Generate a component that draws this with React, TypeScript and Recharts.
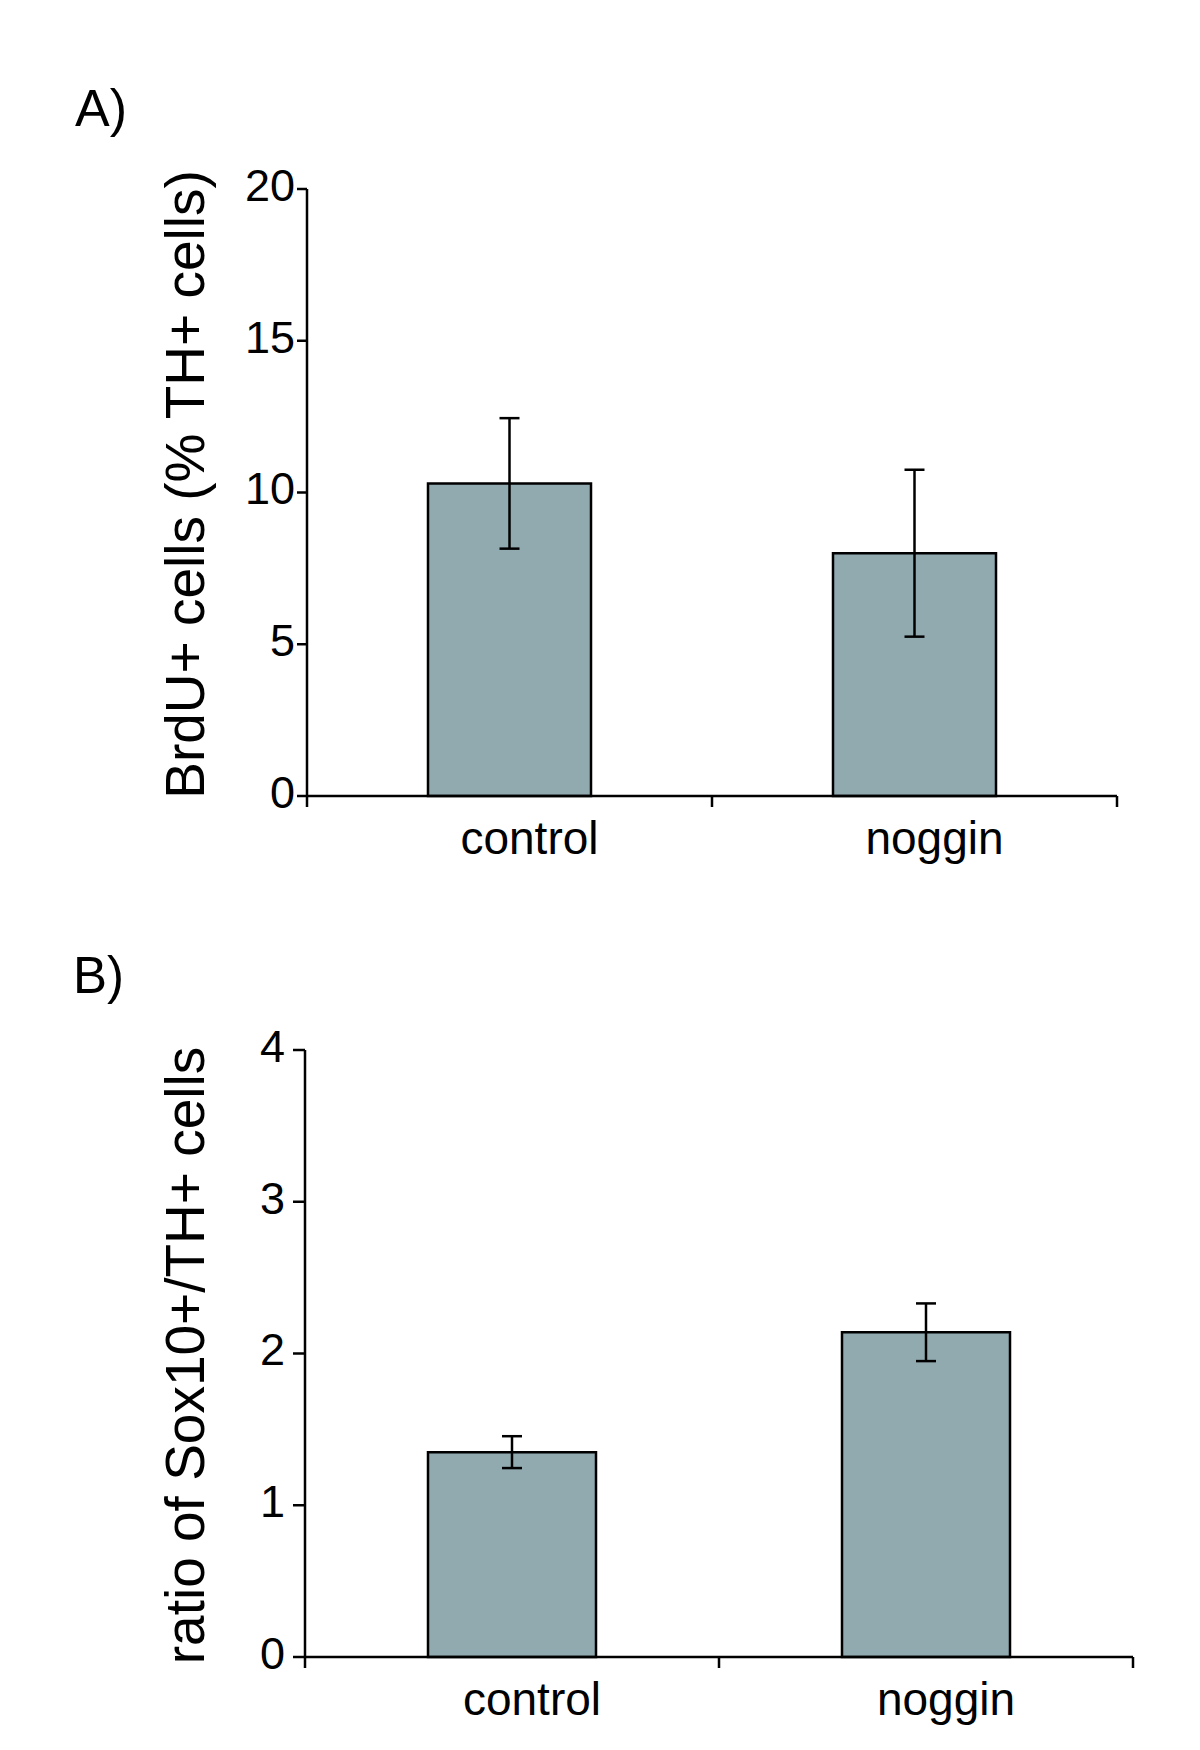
import React from "react";
import { BarChart, Bar, XAxis, YAxis, ErrorBar } from "recharts";

// groups on the x axis
const groups = ["control", "noggin"];

// panel A: BrdU+ cells (% of TH+ cells), mean and error
const brduMeans = [10.3, 8.0];
const brduErrs = [2.15, 2.75];
const brduTicks = [0, 5, 10, 15, 20];

// panel B: ratio of Sox10+/TH+ cells, mean and error
const soxMeans = [1.35, 2.14];
const soxErrs = [0.105, 0.19];
const soxTicks = [0, 1, 2, 3, 4];

const FONT = "Arial, 'Liberation Sans', Helvetica, sans-serif";
const INK = "#000";
const BAR_FILL = "#91aab0";
const LINE_W = 2.5;

const brduData = groups.map((g, i) => ({ group: g, value: brduMeans[i], err: brduErrs[i] }));
const soxData = groups.map((g, i) => ({ group: g, value: soxMeans[i], err: soxErrs[i] }));

// category label plus tick marks at the category boundaries (Excel style)
const CategoryTick = (props: any) => {
  const { x, y, payload, index, visibleTicksCount, halfBand, tickLen } = props;
  const half = payload && typeof payload.offset === "number" && payload.offset > 0 ? payload.offset : halfBand;
  const isLast = index === visibleTicksCount - 1;
  return (
    <g>
      <line x1={x - half} y1={y} x2={x - half} y2={y + tickLen} stroke={INK} strokeWidth={LINE_W} />
      {isLast && (
        <line x1={x + half} y1={y} x2={x + half} y2={y + tickLen} stroke={INK} strokeWidth={LINE_W} />
      )}
      <text x={x + 20} y={y + 58} textAnchor="middle" fontSize={46} fontFamily={FONT} fill={INK}>
        {payload.value}
      </text>
    </g>
  );
};

const AxisTitle = (props: any) => {
  const { viewBox, text, dx, dy } = props;
  const cx = viewBox.x + dx;
  const cy = viewBox.y + viewBox.height / 2 + dy;
  return (
    <text
      x={cx}
      y={cy}
      transform={`rotate(-90 ${cx} ${cy})`}
      textAnchor="middle"
      fontSize={55}
      fontFamily={FONT}
      fill={INK}
    >
      {text}
    </text>
  );
};

type PanelProps = {
  data: any[];
  ticks: number[];
  top: number;
  height: number;
  margin: { top: number; right: number; bottom: number; left: number };
  barSize: number;
  yTitle: string;
  titleDx: number;
  titleDy: number;
  yTickSize: number;
  yTickMargin: number;
  halfBand: number;
};

const Panel = (p: PanelProps) => (
  <div style={{ position: "absolute", left: 0, top: p.top }}>
    <BarChart width={1200} height={p.height} data={p.data} margin={p.margin}>
      <XAxis
        dataKey="group"
        height={80}
        interval={0}
        tickSize={0}
        tickMargin={0}
        tickLine={false}
        axisLine={{ stroke: INK, strokeWidth: LINE_W }}
        tick={(t: any) => <CategoryTick {...t} halfBand={p.halfBand} tickLen={11} />}
      />
      <YAxis
        domain={[0, p.ticks[p.ticks.length - 1]]}
        ticks={p.ticks}
        interval={0}
        width={100}
        tickSize={p.yTickSize}
        tickMargin={p.yTickMargin}
        axisLine={{ stroke: INK, strokeWidth: LINE_W }}
        tickLine={{ stroke: INK, strokeWidth: LINE_W }}
        tick={{ fontSize: 45, fill: INK, fontFamily: FONT, dy: -4 }}
        label={{
          value: p.yTitle,
          content: (lp: any) => <AxisTitle {...lp} text={p.yTitle} dx={p.titleDx} dy={p.titleDy} />,
        }}
      />
      <Bar
        dataKey="value"
        fill={BAR_FILL}
        stroke={INK}
        strokeWidth={LINE_W}
        barSize={p.barSize}
        isAnimationActive={false}
      >
        <ErrorBar dataKey="err" width={10} stroke={INK} strokeWidth={LINE_W} direction="y" isAnimationActive={false} />
      </Bar>
    </BarChart>
  </div>
);

export default function App() {
  return (
    <div
      style={{
        position: "absolute",
        left: 0,
        top: 0,
        width: 1200,
        height: 1750,
        background: "#fff",
        overflow: "hidden",
      }}
    >
      <Panel
        data={brduData}
        ticks={brduTicks}
        top={0}
        height={900}
        margin={{ top: 189, right: 83, bottom: 24, left: 207 }}
        barSize={163}
        yTitle="BrdU+ cells (% TH+ cells)"
        titleDx={-3}
        titleDy={-8}
        yTickSize={10}
        yTickMargin={2}
        halfBand={202.5}
      />
      <Panel
        data={soxData}
        ticks={soxTicks}
        top={900}
        height={850}
        margin={{ top: 150, right: 67, bottom: 13, left: 205 }}
        barSize={168}
        yTitle="ratio of Sox10+/TH+ cells"
        titleDx={-1}
        titleDy={2}
        yTickSize={12}
        yTickMargin={8}
        halfBand={207}
      />
      <svg
        width={1200}
        height={1750}
        style={{ position: "absolute", left: 0, top: 0, pointerEvents: "none" }}
      >
        <text x={75} y={126} fontSize={52} fontFamily={FONT} fill={INK}>
          A)
        </text>
        <text x={73} y={993} fontSize={51} fontFamily={FONT} fill={INK}>
          B)
        </text>
      </svg>
    </div>
  );
}
